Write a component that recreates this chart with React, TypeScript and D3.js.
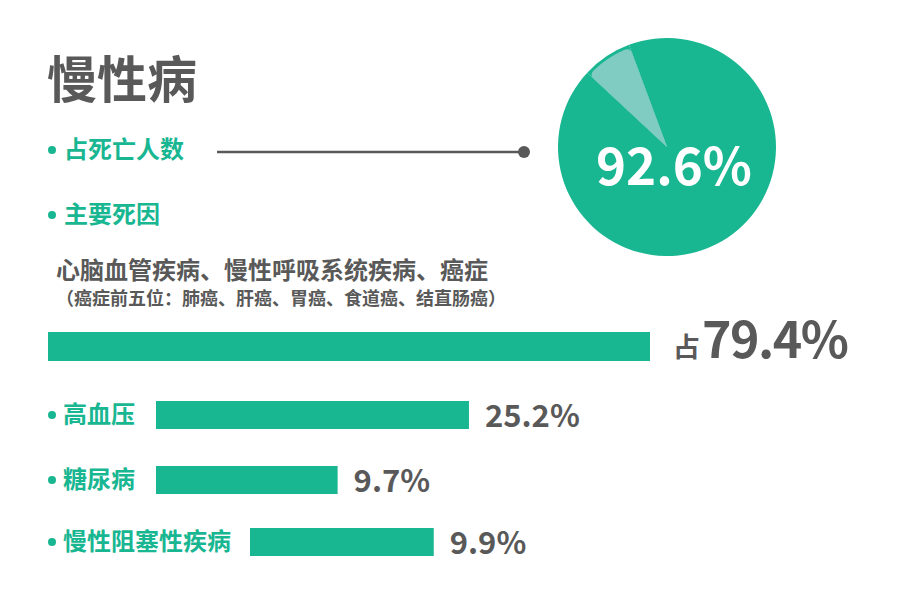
import React from "react";
import * as d3 from "d3";

const title = "慢性病";
const headerItems = ["占死亡人数", "主要死因"];
const pieValues = [92.6, 7.4];
const pieLabel = "92.6%";
const causeLine1 = "心脑血管疾病、慢性呼吸系统疾病、癌症";
const causeLine2 = "（癌症前五位：肺癌、肝癌、胃癌、食道癌、结直肠癌）";
const mainValue = 79.4;
const mainPrefix = "占";
const categories = ["高血压", "糖尿病", "慢性阻塞性疾病"];
const values = [25.2, 9.7, 9.9];

const GREEN = "#19b692";
const LIGHT = "#80ccc2";
const GRAY = "#595959";
const FONT = "'Noto Sans CJK SC', 'Noto Sans', sans-serif";

export default function App() {
  const W = 900;
  const H = 600;
  const len = d3.scalePow().exponent(0.57).domain([0, mainValue]).range([0, 602]);

  const cx = 667, cy = 147, R = 109;
  const start = (-20.4 * Math.PI) / 180;
  const pie = d3.pie<number>().sort(null).value((d) => d).startAngle(start).endAngle(start + 2 * Math.PI);
  const arcs = pie(pieValues);
  const bigArc = d3.arc<d3.PieArcDatum<number>>().innerRadius(0).outerRadius(R);
  const smallArc = d3.arc<d3.PieArcDatum<number>>().innerRadius(0).outerRadius(R - 3).cornerRadius(5);

  const rowY = [415, 480, 542];
  const labelFs = 24;

  return (
    <div style={{ margin: -8 }}>
      <svg width={W} height={H} style={{ display: "block", background: "#fff" }} fontFamily={FONT}>
        <text x={47} y={98} fontSize={50} fontWeight={700} fill={GRAY}>{title}</text>

        {headerItems.map((t, i) => {
          const y = [150, 215][i];
          return (
            <g key={t}>
              <circle cx={52} cy={y} r={4} fill={GREEN} />
              <text x={64} y={y + 8} fontSize={labelFs} fontWeight={700} fill={GREEN}>{t}</text>
            </g>
          );
        })}
        <line x1={217} x2={524} y1={152} y2={152} stroke={GRAY} strokeWidth={2.5} />
        <circle cx={524} cy={152} r={6} fill={GRAY} />

        <g transform={`translate(${cx},${cy})`}>
          <path d={bigArc(arcs[0]) || ""} fill={GREEN} />
          <path d={bigArc(arcs[1]) || ""} fill={GREEN} />
          <path d={smallArc(arcs[1]) || ""} fill={LIGHT} />
          <text x={7} y={38} textAnchor="middle" fontSize={51} fontWeight={700} fill="#fff">{pieLabel}</text>
        </g>

        <text x={56} y={279} fontSize={24} fontWeight={700} fill={GRAY}>{causeLine1}</text>
        <text x={56} y={305} fontSize={18} fontWeight={700} fill={GRAY}>{causeLine2}</text>

        <rect x={48} y={332} width={len(mainValue)} height={29} fill={GREEN} />
        <text x={48 + len(mainValue) + 23} y={357} fill={GRAY} fontWeight={700}>
          <tspan fontSize={27}>{mainPrefix}</tspan>
          <tspan fontSize={50} dx={2} dy={1} letterSpacing={-1.5}>{mainValue.toFixed(1) + "%"}</tspan>
        </text>

        {categories.map((c, i) => {
          const y = rowY[i];
          const labelEnd = 63 + c.length * 24;
          const x0 = Math.max(156, labelEnd + 19);
          const w = len(values[i]);
          return (
            <g key={c}>
              <circle cx={52} cy={y} r={4} fill={GREEN} />
              <text x={63} y={y + 8} fontSize={labelFs} fontWeight={700} fill={GREEN}>{c}</text>
              <rect x={x0} y={y - 14} width={w} height={28} fill={GREEN} />
              <text x={x0 + w + 16} y={y + 12} fontSize={31} fontWeight={600} fill={GRAY}>{values[i].toFixed(1) + "%"}</text>
            </g>
          );
        })}
      </svg>
    </div>
  );
}
